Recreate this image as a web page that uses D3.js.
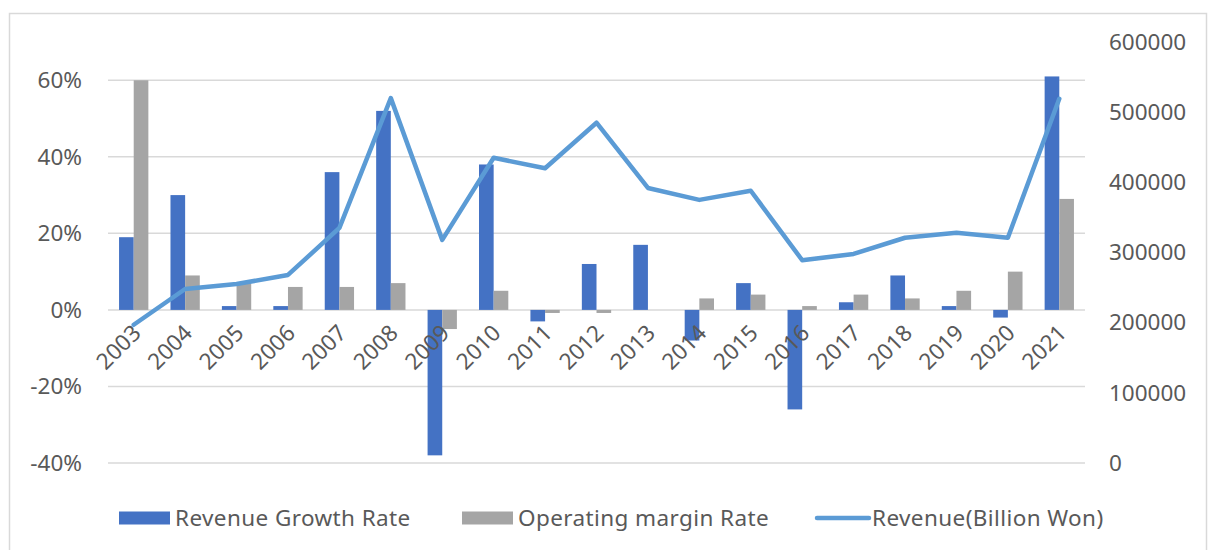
<!DOCTYPE html>
<html>
<head>
<meta charset="utf-8">
<script src="https://cdn.jsdelivr.net/npm/d3@7"></script>
<style>
  body { margin: 0; background: #fff; }
  text { font-family: "Noto Sans", "Open Sans", sans-serif; fill: #595959; }
</style>
</head>
<body>
<div id="chart"></div>
<script>
const years = ["2003","2004","2005","2006","2007","2008","2009","2010","2011","2012",
               "2013","2014","2015","2016","2017","2018","2019","2020","2021"];
const growthRate = [0.19, 0.30, 0.01, 0.01, 0.36, 0.52, -0.38, 0.38, -0.03, 0.12,
                    0.17, -0.08, 0.07, -0.26, 0.02, 0.09, 0.01, -0.02, 0.61];
const marginRate = [0.60, 0.09, 0.07, 0.06, 0.06, 0.07, -0.05, 0.05, -0.008, -0.008,
                    0.0, 0.03, 0.04, 0.01, 0.04, 0.03, 0.05, 0.10, 0.29];
const revenue = [197000, 248000, 255000, 268000, 335000, 520000, 318000, 435000, 420000, 485000,
                 392000, 375000, 388000, 289000, 298000, 321000, 328000, 321000, 519000];
const leftTicks = [-0.4, -0.2, 0, 0.2, 0.4, 0.6];
const rightTicks = [0, 100000, 200000, 300000, 400000, 500000, 600000];
const seriesNames = ["Revenue Growth Rate", "Operating margin Rate", "Revenue(Billion Won)"];

const width = 1211, height = 550;
const colors = { growth: "#4472C4", margin: "#A5A5A5", line: "#5B9BD5", grid: "#D9D9D9" };

const svg = d3.select("#chart").append("svg")
    .attr("width", width)
    .attr("height", height);

// outer border
svg.append("rect")
    .attr("x", 9.5).attr("y", 13.5)
    .attr("width", 1197).attr("height", 560)
    .attr("fill", "none")
    .attr("stroke", colors.grid)
    .attr("stroke-width", 1.5);

const x = d3.scaleBand().domain(years).range([108, 1085]).paddingInner(0).paddingOuter(0);
const yL = d3.scaleLinear().domain([-0.4, 0.7]).range([463, 42]);
const yR = d3.scaleLinear().domain([0, 600000]).range([463, 42]);

const bw = x.bandwidth() * 0.285;

// gridlines
svg.append("g").selectAll("line")
    .data(leftTicks)
    .enter().append("line")
    .attr("x1", 108).attr("x2", 1085)
    .attr("y1", d => yL(d)).attr("y2", d => yL(d))
    .attr("stroke", colors.grid)
    .attr("stroke-width", 1.5);

// left axis labels (plain hyphen minus like the original)
const leftAxis = d3.axisLeft(yL).tickValues(leftTicks)
    .tickFormat(d => Math.round(d * 100) + "%").tickSize(0).tickPadding(0);
const gL = svg.append("g").attr("transform", "translate(82,0)").call(leftAxis);
gL.select(".domain").remove();
gL.selectAll("text").style("font-size", "22.5px").attr("fill", "#595959");

// right axis labels
const rightAxis = d3.axisRight(yR).tickValues(rightTicks).tickFormat(d => d).tickSize(0).tickPadding(0);
const gR = svg.append("g").attr("transform", "translate(1109,0)").call(rightAxis);
gR.select(".domain").remove();
gR.selectAll("text").style("font-size", "22.5px").attr("fill", "#595959");

// bars
const bars = svg.append("g");
bars.selectAll("rect.growth")
    .data(years)
    .enter().append("rect")
    .attr("class", "growth")
    .attr("x", (d) => x(d) + x.bandwidth() / 2 - bw)
    .attr("width", bw)
    .attr("y", (d, i) => yL(Math.max(0, growthRate[i])))
    .attr("height", (d, i) => Math.abs(yL(growthRate[i]) - yL(0)))
    .attr("fill", colors.growth);

bars.selectAll("rect.margin")
    .data(years)
    .enter().append("rect")
    .attr("class", "margin")
    .attr("x", (d) => x(d) + x.bandwidth() / 2)
    .attr("width", bw)
    .attr("y", (d, i) => yL(Math.max(0, marginRate[i])))
    .attr("height", (d, i) => Math.abs(yL(marginRate[i]) - yL(0)))
    .attr("fill", colors.margin);

// x labels
svg.append("g").selectAll("text")
    .data(years)
    .enter().append("text")
    .attr("transform", d => `translate(${x(d) + x.bandwidth() / 2 + 3},${yL(0) + 19}) rotate(-45)`)
    .attr("text-anchor", "end")
    .attr("dy", "0.35em")
    .style("font-size", "22.5px")
    .text(d => d);

// revenue line
const line = d3.line()
    .x((d, i) => x(years[i]) + x.bandwidth() / 2)
    .y(d => yR(d));

svg.append("path")
    .datum(revenue)
    .attr("d", line)
    .attr("fill", "none")
    .attr("stroke", colors.line)
    .attr("stroke-width", 4.5)
    .attr("stroke-linejoin", "round")
    .attr("stroke-linecap", "round");

// legend
const legend = svg.append("g").attr("transform", "translate(0,518)");
const legendFont = "22.5px";
legend.append("rect").attr("x", 119).attr("y", -6.5).attr("width", 51).attr("height", 13).attr("fill", colors.growth);
legend.append("text").attr("x", 175).attr("dy", "0.35em").style("font-size", legendFont)
    .style("letter-spacing", "0.4px").text(seriesNames[0]);
legend.append("rect").attr("x", 462).attr("y", -6.5).attr("width", 51).attr("height", 13).attr("fill", colors.margin);
legend.append("text").attr("x", 518).attr("dy", "0.35em").style("font-size", legendFont)
    .style("letter-spacing", "0.4px").text(seriesNames[1]);
legend.append("line").attr("x1", 817).attr("x2", 869).attr("y1", 0).attr("y2", 0)
    .attr("stroke", colors.line).attr("stroke-width", 4.5).attr("stroke-linecap", "round");
legend.append("text").attr("x", 872).attr("dy", "0.35em").style("font-size", legendFont)
    .style("letter-spacing", "0.4px").text(seriesNames[2]);
</script>
</body>
</html>
